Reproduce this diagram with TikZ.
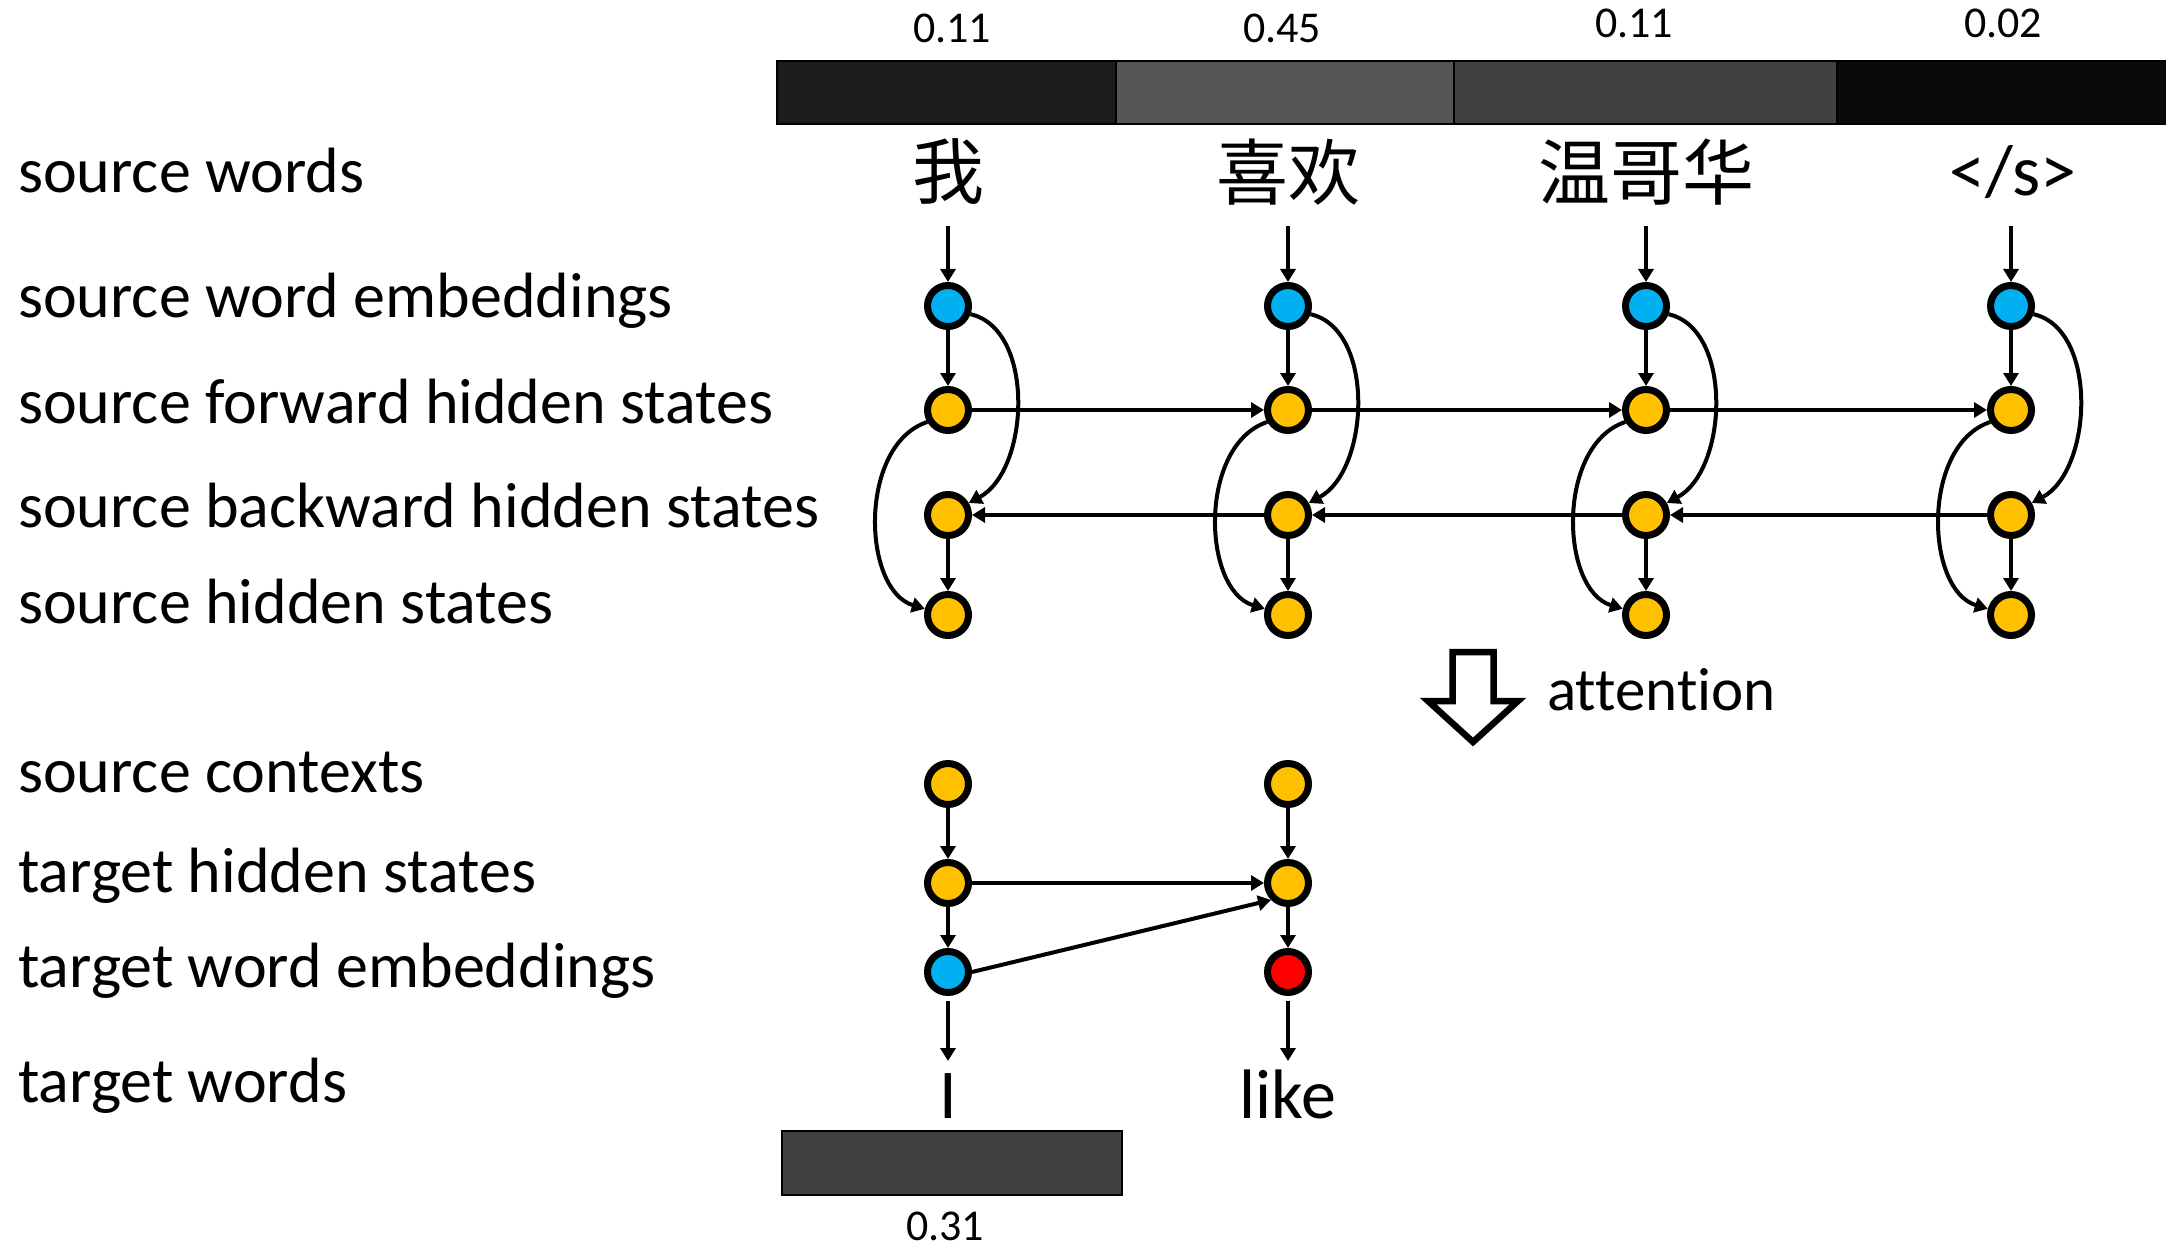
\documentclass[tikz,border=0pt]{standalone}
\usepackage{fontspec}
\setmainfont{Carlito}[Ligatures=NoCommon]
\newfontfamily\cjk{Noto Sans CJK SC}
\usetikzlibrary{arrows.meta}

\definecolor{embblue}{HTML}{00B0F0}
\definecolor{hidorange}{HTML}{FFC000}
\definecolor{outred}{HTML}{FF0000}
\definecolor{attA}{HTML}{1C1C1C}
\definecolor{attB}{HTML}{555555}
\definecolor{attC}{HTML}{404040}
\definecolor{attD}{HTML}{0A0A0A}

\begin{document}
\begin{tikzpicture}[x=1pt,y=-1pt,
  unit/.style={circle,draw=black,line width=7pt,minimum size=41pt,inner sep=0pt},
  emb/.style={unit,fill=embblue},
  hid/.style={unit,fill=hidorange},
  outw/.style={unit,fill=outred},
  lab/.style={anchor=base west,inner sep=0pt,font=\fontsize{64}{72}\selectfont},
  srcword/.style={inner sep=0pt,font=\fontsize{72}{80}\selectfont},
  tgtword/.style={anchor=base,inner sep=0pt,font=\fontsize{70}{78}\selectfont},
  weight/.style={anchor=base,inner sep=0pt,font=\fontsize{44}{50}\selectfont},
  conn/.style={line width=4pt,-{Triangle[length=13pt,width=15pt]}},
  bar/.style={draw=black,line width=2pt}
]
\useasboundingbox (0,0) rectangle (2166,1249);

% attention weights over the source words
\fill[attA] (777,61) rectangle (1116,124);
\fill[attB] (1116,61) rectangle (1454,124);
\fill[attC] (1454,61) rectangle (1837,124);
\fill[attD] (1837,61) rectangle (2190,124);
\draw[bar] (777,61) rectangle (1116,124);
\draw[bar] (1116,61) rectangle (1454,124);
\draw[bar] (1454,61) rectangle (1837,124);
\draw[bar] (1837,61) rectangle (2190,124);
\node[weight] (wa) at (952,43) {0.11};
\node[weight] (wb) at (1282,43) {0.45};
\node[weight] (wc) at (1634,38) {0.11};
\node[weight] (wd) at (2003,38) {0.02};

% row labels
\node[lab] (l1) at (18,193) {source words};
\node[lab] (l2) at (18,318) {source word embeddings};
\node[lab] (l3) at (18,423) {source forward hidden states};
\node[lab] (l4) at (18,527) {source backward hidden states};
\node[lab] (l5) at (18,623) {source hidden states};
\node[lab] (l6) at (18,792) {source contexts};
\node[lab] (l7) at (18,892) {target hidden states};
\node[lab] (l8) at (18,987) {target word embeddings};
\node[lab] (l9) at (18,1102) {target words};

% source words
\node[srcword] (w1) at (948,172) {\cjk 我};
\node[srcword] (w2) at (1288,172) {\cjk 喜欢};
\node[srcword] (w3) at (1646,172) {\cjk 温哥华};
\node[srcword] (w4) at (2013,172) {</s>};

% encoder columns
\foreach \i/\x in {1/948,2/1288,3/1646,4/2011} {
  \coordinate (s\i) at (\x,226);
  \node[emb] (e\i) at (\x,306) {};
  \node[hid] (f\i) at (\x,410) {};
  \node[hid] (b\i) at (\x,515) {};
  \node[hid] (h\i) at (\x,615) {};
  \draw[conn] (s\i) -- (e\i.north);
  \draw[conn] (e\i.south) -- (f\i.north);
  \draw[conn] (b\i.south) -- (h\i.north);
  \draw[conn] (e\i.-20) .. controls +(65,15) and +(61,-33) .. (b\i.30);
  \draw[conn] (f\i.-150) .. controls +(-69,23) and +(-63,-19) .. (h\i.165);
}
\foreach \i/\j in {1/2,2/3,3/4} {
  \draw[conn] (f\i.east) -- (f\j.west);
  \draw[conn] (b\j.west) -- (b\i.east);
}

% attention arrow
\draw[line width=6.5pt,line join=miter,fill=white]
  (1452.5,652) -- (1493.5,652) -- (1493.5,701) -- (1518,701) -- (1473,742)
  -- (1428,701) -- (1452.5,701) -- cycle;
\node[anchor=base west,inner sep=0pt,font=\fontsize{61}{68}\selectfont] (att) at (1547,710) {attention};

% decoder columns
\node[hid] (c1) at (948,784) {};
\node[hid] (c2) at (1288,784) {};
\node[hid] (th1) at (948,883) {};
\node[hid] (th2) at (1288,883) {};
\node[emb] (te1) at (948,972) {};
\node[outw] (te2) at (1288,972) {};
\coordinate (t1) at (948,1061);
\coordinate (t2) at (1288,1061);
\node[tgtword] (y1) at (948,1118) {I};
\node[tgtword] (y2) at (1288,1118) {like};

\draw[conn] (c1.south) -- (th1.north);
\draw[conn] (c2.south) -- (th2.north);
\draw[conn] (th1.south) -- (te1.north);
\draw[conn] (th2.south) -- (te2.north);
\draw[conn] (th1.east) -- (th2.west);
\draw[conn] (te1.east) -- (th2.south west);
\draw[conn,shorten <=5pt] (te1.south) -- (t1);
\draw[conn,shorten <=5pt] (te2.south) -- (t2);

% attention weight of the first target word
\fill[attC] (782,1131) rectangle (1122,1195);
\draw[bar] (782,1131) rectangle (1122,1195);
\node[weight] (wy) at (945,1240) {0.31};
\end{tikzpicture}
\end{document}
